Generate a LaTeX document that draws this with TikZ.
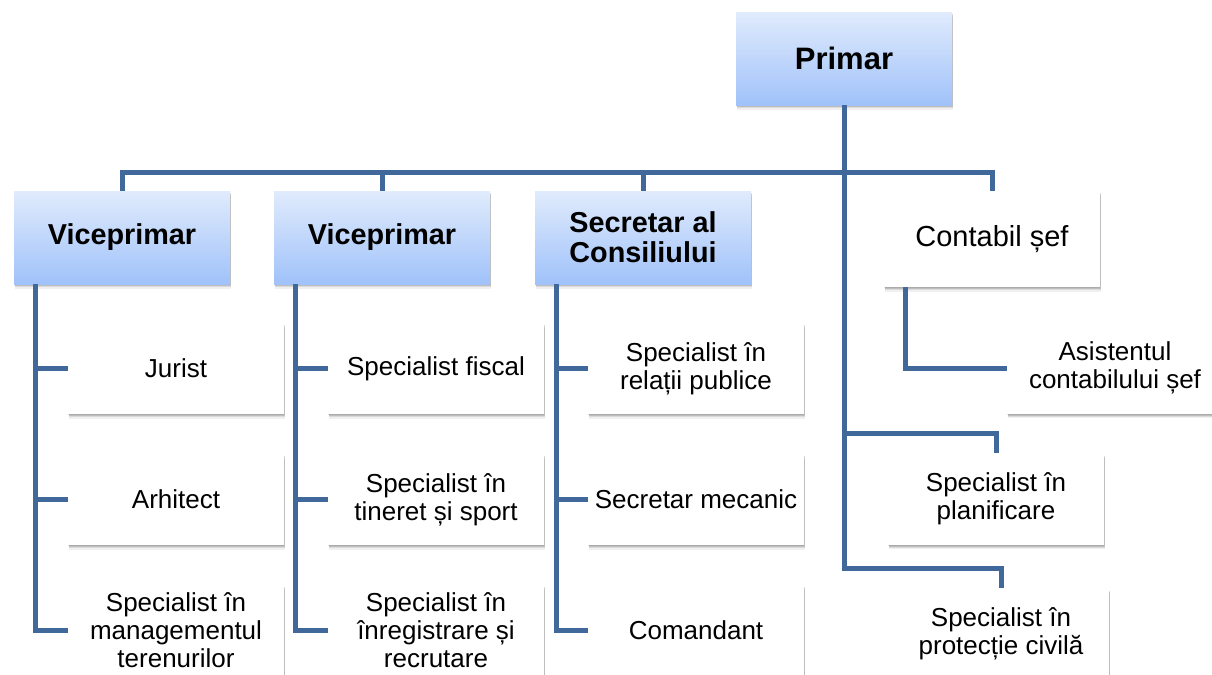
\documentclass[tikz,border=0pt]{standalone}
\usepackage{fontspec}
\setmainfont{Liberation Sans}
\usetikzlibrary{positioning,shadows}
\definecolor{linkblue}{RGB}{64,104,155}
\definecolor{headtop}{RGB}{224,235,252}
\definecolor{headbot}{RGB}{160,194,250}

\begin{document}
\begin{tikzpicture}[x=0.5pt,y=-0.5pt,node distance=65.5pt,on grid,
    boxshadow/.style={
      general shadow={shadow xshift=0.5pt,shadow yshift=-2.3pt,fill=black,opacity=0.06},
      general shadow={shadow xshift=0.5pt,shadow yshift=-1.7pt,fill=black,opacity=0.09},
      general shadow={shadow xshift=0.4pt,shadow yshift=-1.1pt,fill=black,opacity=0.13},
      general shadow={shadow xshift=0.2pt,shadow yshift=-0.5pt,fill=black,opacity=0.1}},
    head/.style={rectangle,top color=headtop,bottom color=headbot,boxshadow,
      minimum width=108pt,minimum height=46.5pt,inner sep=2pt,align=center,
      font=\fontsize{14.4}{15}\selectfont\bfseries},
    unit/.style={rectangle,fill=white,boxshadow,
      minimum width=108pt,minimum height=45.5pt,inner sep=2pt,align=center,
      font=\fontsize{13}{14}\selectfont},
    link/.style={draw=linkblue,line width=2.5pt}]
    \useasboundingbox (0,0) rectangle (1212,675);
    % top level
    \node[head,font=\fontsize{15.5}{17}\selectfont\bfseries] (primar) at (844,58.5) {Primar};
    \coordinate (bar) at (844,172);
    \node[head] (vice1) at (122,237.5) {Viceprimar};
    \node[head] (vice2) at (382,237.5) {Viceprimar};
    \node[head] (secr) at (643,237.5) {Secretar al\\Consiliului};
    \node[unit,minimum height=48pt,font=\fontsize{14.5}{16}\selectfont] (contabil) at (992,239) {Contabil șef};
    % first column
    \node[unit] (jurist) [below right=65.5pt and 27pt of vice1] {Jurist};
    \node[unit] (arhitect) [below=of jurist] {Arhitect};
    \node[unit] (teren) [below=of arhitect] {Specialist în\\managementul\\terenurilor};
    % second column
    \node[unit] (fiscal) [below right=65.5pt and 27pt of vice2] {Specialist fiscal};
    \node[unit] (tineret) [below=of fiscal] {Specialist în\\tineret și sport};
    \node[unit] (recrut) [below=of tineret] {Specialist în\\înregistrare și\\recrutare};
    % third column
    \node[unit] (relatii) [below right=65.5pt and 26.5pt of secr] {Specialist în\\relații publice};
    \node[unit] (mecanic) [below=of relatii] {Secretar mecanic};
    \node[unit] (comand) [below=of mecanic] {Comandant};
    % right side
    \node[unit] (asist) [below right=64.5pt and 61.5pt of contabil] {Asistentul\\contabilului șef};
    \node[unit] (planif) at (996,499) {Specialist în\\planificare};
    \node[unit] (civil) at (1001,634) {Specialist în\\protecție civilă};

    \draw[link] (primar.south) -- (bar);
    \foreach \h in {vice1,vice2,secr,contabil}
      \draw[link] (bar) -| (\h.north);
    \foreach \h/\a/\b/\c in {vice1/jurist/arhitect/teren,vice2/fiscal/tineret/recrut,secr/relatii/mecanic/comand}
      \foreach \k in {\a,\b,\c}
        \draw[link] ([xshift=11pt]\h.south west) |- (\k.west);
    \draw[link] ([xshift=11pt]contabil.south west) |- (asist.west);
    \draw[link] (bar) |- ([yshift=10pt]planif.north) -- (planif.north);
    \draw[link] (bar) |- ([yshift=10pt]civil.north) -- (civil.north);
\end{tikzpicture}
\end{document}
